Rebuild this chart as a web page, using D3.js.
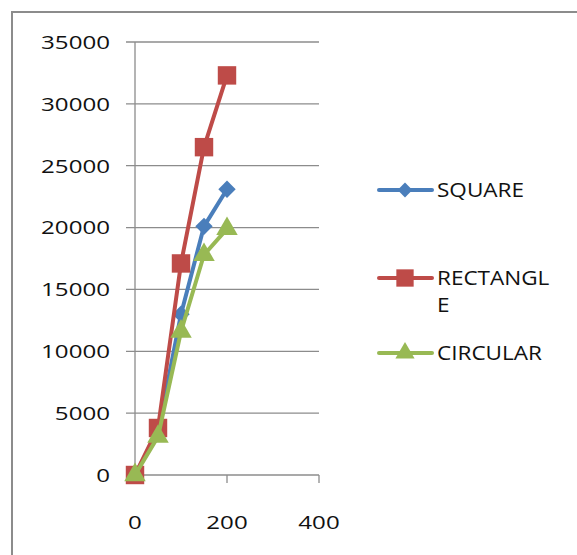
<!DOCTYPE html>
<html>
<head>
<meta charset="utf-8">
<script src="https://cdn.jsdelivr.net/npm/d3@7"></script>
<style>
  body { margin: 0; background: #fff; }
  text { font-family: "Open Sans", sans-serif; fill: #111; }
</style>
</head>
<body>
<svg id="chart" width="577" height="555"></svg>
<script>
const xValues = [0, 50, 100, 150, 200];
const squareValues = [0, 3500, 13000, 20100, 23100];
const rectangleValues = [0, 3800, 17100, 26500, 32300];
const circularValues = [0, 3100, 11600, 17800, 19900];
const seriesNames = ["SQUARE", "RECTANGLE", "CIRCULAR"];
const legendLabels = [["SQUARE"], ["RECTANGL", "E"], ["CIRCULAR"]];
const yTicks = [0, 5000, 10000, 15000, 20000, 25000, 30000, 35000];
const xTicks = [0, 200, 400];

const COLORS = ["#4a7ebb", "#be4b48", "#98b954"];
// diamond = square turned 45deg (wider than d3.symbolDiamond)
const SYMBOLS = [d3.symbolSquare, d3.symbolSquare, d3.symbolTriangle];
const ROTATE = [45, 0, 0];
const SIZES = [150, 340, 200];
const LEGEND_SIZES = [110, 300, 160];

const svg = d3.select("#chart");

// outer chart border (runs off the right/bottom of the crop)
svg.append("rect")
  .attr("x", 12).attr("y", 12)
  .attr("width", 700).attr("height", 700)
  .attr("fill", "none").attr("stroke", "#8c8c8c").attr("stroke-width", 2);

const x = d3.scaleLinear().domain([0, 400]).range([135, 319]);
const y = d3.scaleLinear().domain([0, 35000]).range([475, 42]);

const grid = svg.append("g");

grid.selectAll(".grid")
  .data(yTicks)
  .join("line")
  .attr("class", "grid")
  .attr("x1", 126).attr("x2", x(400))
  .attr("y1", (d) => y(d)).attr("y2", (d) => y(d))
  .attr("stroke", "#8c8c8c").attr("stroke-width", 1.3);

// y axis line
grid.append("line")
  .attr("x1", x(0)).attr("x2", x(0))
  .attr("y1", y(35000)).attr("y2", y(0))
  .attr("stroke", "#8c8c8c").attr("stroke-width", 1.3);

grid.selectAll(".xtick")
  .data(xTicks)
  .join("line")
  .attr("class", "xtick")
  .attr("x1", (d) => x(d)).attr("x2", (d) => x(d))
  .attr("y1", y(0)).attr("y2", y(0) + 8)
  .attr("stroke", "#8c8c8c").attr("stroke-width", 1.3);

svg.append("g")
  .selectAll("text")
  .data(yTicks)
  .join("text")
  .attr("text-anchor", "end")
  .attr("dy", "0.36em")
  .attr("font-size", 19)
  .attr("transform", (d) => `translate(110,${y(d)}) scale(1.27,1)`)
  .text((d) => d);

svg.append("g")
  .selectAll("text")
  .data(xTicks)
  .join("text")
  .attr("text-anchor", "middle")
  .attr("dy", "0.36em")
  .attr("font-size", 19)
  .attr("transform", (d) => `translate(${x(d)},522) scale(1.27,1)`)
  .text((d) => d);

const series = [squareValues, rectangleValues, circularValues].map((vals, i) => ({
  name: seriesNames[i],
  points: vals.map((v, j) => ({ x: xValues[j], y: v }))
}));

const line = d3.line().x((d) => x(d.x)).y((d) => y(d.y));

const sg = svg.append("g")
  .selectAll("g")
  .data(series)
  .join("g");

sg.append("path")
  .attr("d", (d) => line(d.points))
  .attr("fill", "none")
  .attr("stroke", (d, i) => COLORS[i])
  .attr("stroke-width", 4)
  .attr("stroke-linejoin", "round")
  .attr("stroke-linecap", "round");

sg.each(function (d, i) {
  d3.select(this)
    .selectAll("path.marker")
    .data(d.points)
    .join("path")
    .attr("class", "marker")
    .attr("d", d3.symbol().type(SYMBOLS[i]).size(SIZES[i]))
    .attr("transform", (p) => `translate(${x(p.x)},${y(p.y)}) rotate(${ROTATE[i]})`)
    .attr("fill", COLORS[i]);
});

// legend
const legendY = [190, 278, 353];
const lg = svg.append("g")
  .selectAll("g")
  .data(seriesNames)
  .join("g")
  .attr("transform", (d, i) => `translate(0,${legendY[i]})`);

lg.append("line")
  .attr("x1", 379).attr("x2", 432)
  .attr("stroke", (d, i) => COLORS[i])
  .attr("stroke-width", 4)
  .attr("stroke-linecap", "round");

lg.append("path")
  .attr("d", (d, i) => d3.symbol().type(SYMBOLS[i]).size(LEGEND_SIZES[i])())
  .attr("transform", (d, i) => `translate(405,0) rotate(${ROTATE[i]})`)
  .attr("fill", (d, i) => COLORS[i]);

lg.each(function (d, i) {
  d3.select(this)
    .selectAll("text")
    .data(legendLabels[i])
    .join("text")
    .attr("dy", "0.36em")
    .attr("font-size", 20.5)
    .attr("transform", (t, k) => `translate(437,${k * 27}) scale(1.1,1)`)
    .text((t) => t);
});
</script>
</body>
</html>
